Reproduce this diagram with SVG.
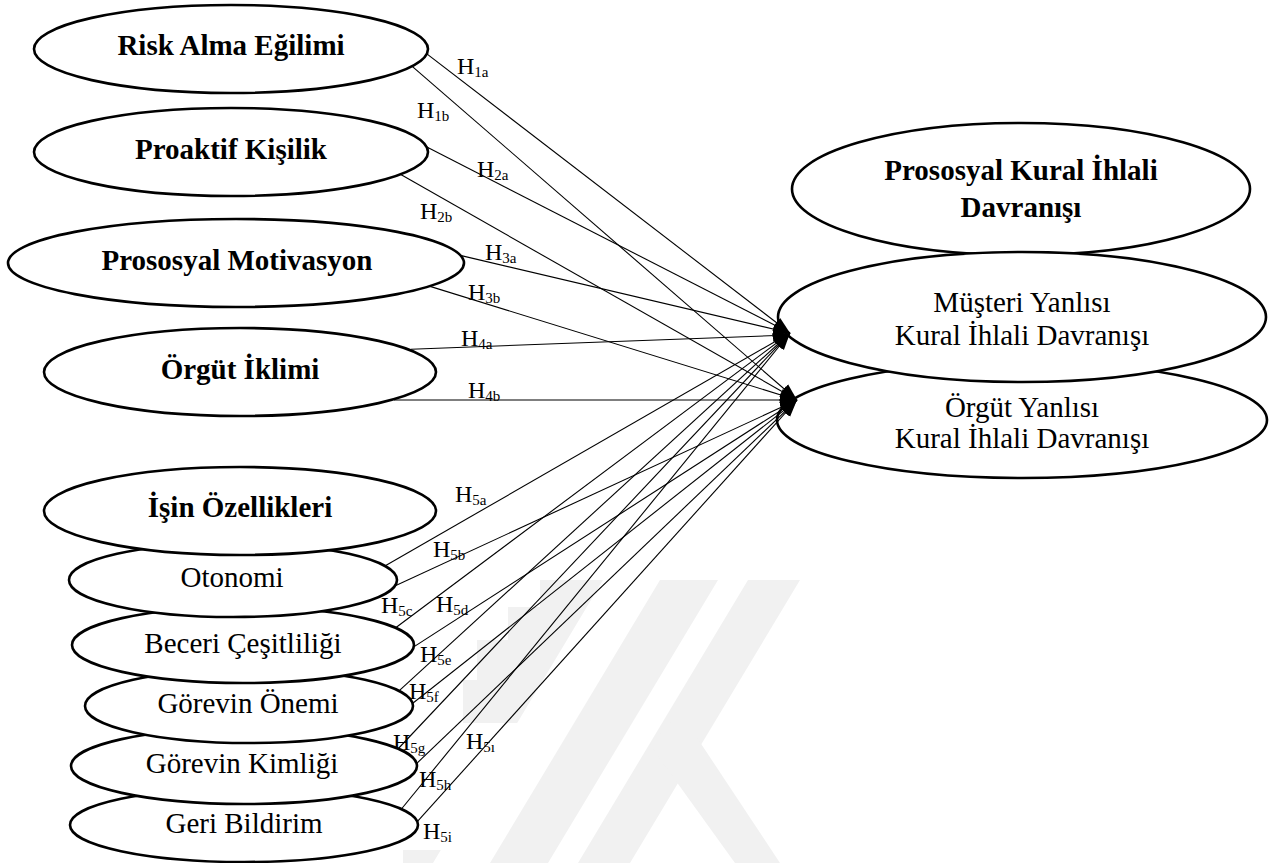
<svg xmlns="http://www.w3.org/2000/svg" width="1275" height="863" viewBox="0 0 1275 863">
  <style>
    .node ellipse { fill: #ffffff; stroke: #000000; stroke-width: 2.6; }
    .bold { font-family: "Liberation Serif", "Times New Roman", serif; font-size: 29px; font-weight: bold; fill: #000; text-anchor: middle; }
    .reg { font-family: "Liberation Serif", "Times New Roman", serif; font-size: 29px; fill: #000; text-anchor: middle; }
    .lbl { font-family: "Liberation Serif", "Times New Roman", serif; font-size: 24px; fill: #000; }
    .lbl tspan.s { font-size: 15px; }
    #connectors line { stroke: #000; stroke-width: 1.1; marker-end: url(#arr); }
    .wm { fill: #f1f1f1; }
  </style>
  <defs>
    <marker id="arr" markerWidth="18" markerHeight="14" refX="17" refY="7" orient="auto" markerUnits="userSpaceOnUse">
      <path d="M0,1 L17,7 L0,13 z" fill="#000"/>
    </marker>
    <clipPath id="wm-clip">
      <polygon points="540,575 1275,575 1275,863 403,863 403,850 480,850 480,813 492,813 492,767 522,767 522,723 463,723 463,680 477,680 477,640 508,640 508,607 540,607"/>
    </clipPath>
  </defs>

  <rect width="1275" height="863" fill="#ffffff"/>

  <!-- faint background watermark -->
  <g id="watermark" clip-path="url(#wm-clip)">
    <polygon class="wm" points="505,580 603,580 433,863 335,863"/>
    <polygon class="wm" points="660,580 718,580 548,863 490,863"/>
    <polygon class="wm" points="748,580 800,580 630,863 578,863"/>
    <polygon class="wm" points="650,745 680,712 780,863 735,863"/>
  </g>

  <!-- dependent constructs -->
  <g id="n-prososyal-kural" class="node">
    <ellipse cx="1021" cy="189" rx="229" ry="66"/>
    <text class="bold" x="1021" y="180">Prososyal Kural İhlali</text>
    <text class="bold" x="1021" y="217">Davranışı</text>
  </g>
  <g id="n-orgut-yanlisi" class="node">
    <ellipse cx="1022" cy="420" rx="245" ry="58"/>
    <text class="reg" x="1022" y="417">Örgüt Yanlısı</text>
    <text class="reg" x="1022" y="448">Kural İhlali Davranışı</text>
  </g>
  <g id="n-musteri-yanlisi" class="node">
    <ellipse cx="1022" cy="317" rx="244" ry="65"/>
    <text class="reg" x="1022" y="312">Müşteri Yanlısı</text>
    <text class="reg" x="1022" y="345">Kural İhlali Davranışı</text>
  </g>

  <!-- hypothesis paths -->
  <g id="connectors">
    <line x1="421" y1="49.4" x2="790" y2="333"/>
    <line x1="407" y1="61.8" x2="797" y2="400"/>
    <line x1="421" y1="144" x2="790" y2="333"/>
    <line x1="392" y1="169.6" x2="797" y2="400"/>
    <line x1="457" y1="254.6" x2="790" y2="333"/>
    <line x1="426" y1="285.1" x2="797" y2="400"/>
    <line x1="411" y1="349.2" x2="790" y2="335"/>
    <line x1="394" y1="400" x2="797" y2="400"/>
    <line x1="384" y1="566.5" x2="790" y2="333"/>
    <line x1="391" y1="587.8" x2="797" y2="400"/>
    <line x1="393" y1="629.7" x2="790" y2="333"/>
    <line x1="406" y1="651.9" x2="797" y2="400"/>
    <line x1="396" y1="693.7" x2="790" y2="333"/>
    <line x1="408" y1="707" x2="797" y2="400"/>
    <line x1="397" y1="750" x2="790" y2="333"/>
    <line x1="413" y1="767" x2="797" y2="400"/>
    <line x1="399" y1="812" x2="790" y2="333"/>
    <line x1="413" y1="826.4" x2="797" y2="400"/>
  </g>

  <!-- path labels -->
  <g id="labels">
    <text class="lbl" x="457" y="74">H<tspan class="s" dy="3">1a</tspan></text>
    <text class="lbl" x="417" y="118">H<tspan class="s" dy="3">1b</tspan></text>
    <text class="lbl" x="477" y="177">H<tspan class="s" dy="3">2a</tspan></text>
    <text class="lbl" x="420" y="219">H<tspan class="s" dy="3">2b</tspan></text>
    <text class="lbl" x="485" y="260">H<tspan class="s" dy="3">3a</tspan></text>
    <text class="lbl" x="468" y="300">H<tspan class="s" dy="3">3b</tspan></text>
    <text class="lbl" x="461" y="346">H<tspan class="s" dy="3">4a</tspan></text>
    <text class="lbl" x="468" y="398">H<tspan class="s" dy="3">4b</tspan></text>
    <text class="lbl" x="455" y="502">H<tspan class="s" dy="3">5a</tspan></text>
    <text class="lbl" x="433" y="557">H<tspan class="s" dy="3">5b</tspan></text>
    <text class="lbl" x="381" y="613">H<tspan class="s" dy="3">5c</tspan></text>
    <text class="lbl" x="436" y="612">H<tspan class="s" dy="3">5d</tspan></text>
    <text class="lbl" x="420" y="662">H<tspan class="s" dy="3">5e</tspan></text>
    <text class="lbl" x="409" y="699">H<tspan class="s" dy="3">5f</tspan></text>
    <text class="lbl" x="393" y="750">H<tspan class="s" dy="3">5g</tspan></text>
    <text class="lbl" x="466" y="749">H<tspan class="s" dy="3">5ı</tspan></text>
    <text class="lbl" x="419" y="787">H<tspan class="s" dy="3">5h</tspan></text>
    <text class="lbl" x="423" y="839">H<tspan class="s" dy="3">5i</tspan></text>
  </g>

  <!-- independent constructs -->
  <g id="n-risk-alma" class="node">
    <ellipse cx="231" cy="49" rx="197" ry="44"/>
    <text class="bold" x="231" y="55">Risk Alma Eğilimi</text>
  </g>
  <g id="n-proaktif" class="node">
    <ellipse cx="231" cy="152" rx="197" ry="44"/>
    <text class="bold" x="231" y="159">Proaktif Kişilik</text>
  </g>
  <g id="n-prososyal-motivasyon" class="node">
    <ellipse cx="236" cy="263" rx="228" ry="44"/>
    <text class="bold" x="237" y="270">Prososyal Motivasyon</text>
  </g>
  <g id="n-orgut-iklimi" class="node">
    <ellipse cx="240" cy="372" rx="196" ry="44"/>
    <text class="bold" x="240" y="379">Örgüt İklimi</text>
  </g>

  <!-- job characteristics stack (lower items drawn first) -->
  <g id="n-geri-bildirim" class="node">
    <ellipse cx="244" cy="825" rx="174" ry="37"/>
    <text class="reg" x="244" y="833">Geri Bildirim</text>
  </g>
  <g id="n-gorevin-kimligi" class="node">
    <ellipse cx="244" cy="766" rx="173" ry="38"/>
    <text class="reg" x="242" y="773">Görevin Kimliği</text>
  </g>
  <g id="n-gorevin-onemi" class="node">
    <ellipse cx="249" cy="706" rx="164" ry="37"/>
    <text class="reg" x="248" y="713">Görevin Önemi</text>
  </g>
  <g id="n-beceri" class="node">
    <ellipse cx="243" cy="645" rx="171" ry="38"/>
    <text class="reg" x="243" y="653">Beceri Çeşitliliği</text>
  </g>
  <g id="n-otonomi" class="node">
    <ellipse cx="233" cy="580" rx="164" ry="37"/>
    <text class="reg" x="232" y="587">Otonomi</text>
  </g>
  <g id="n-isin-ozellikleri" class="node">
    <ellipse cx="240" cy="511" rx="196" ry="44"/>
    <text class="bold" x="240" y="517">İşin Özellikleri</text>
  </g>
</svg>
